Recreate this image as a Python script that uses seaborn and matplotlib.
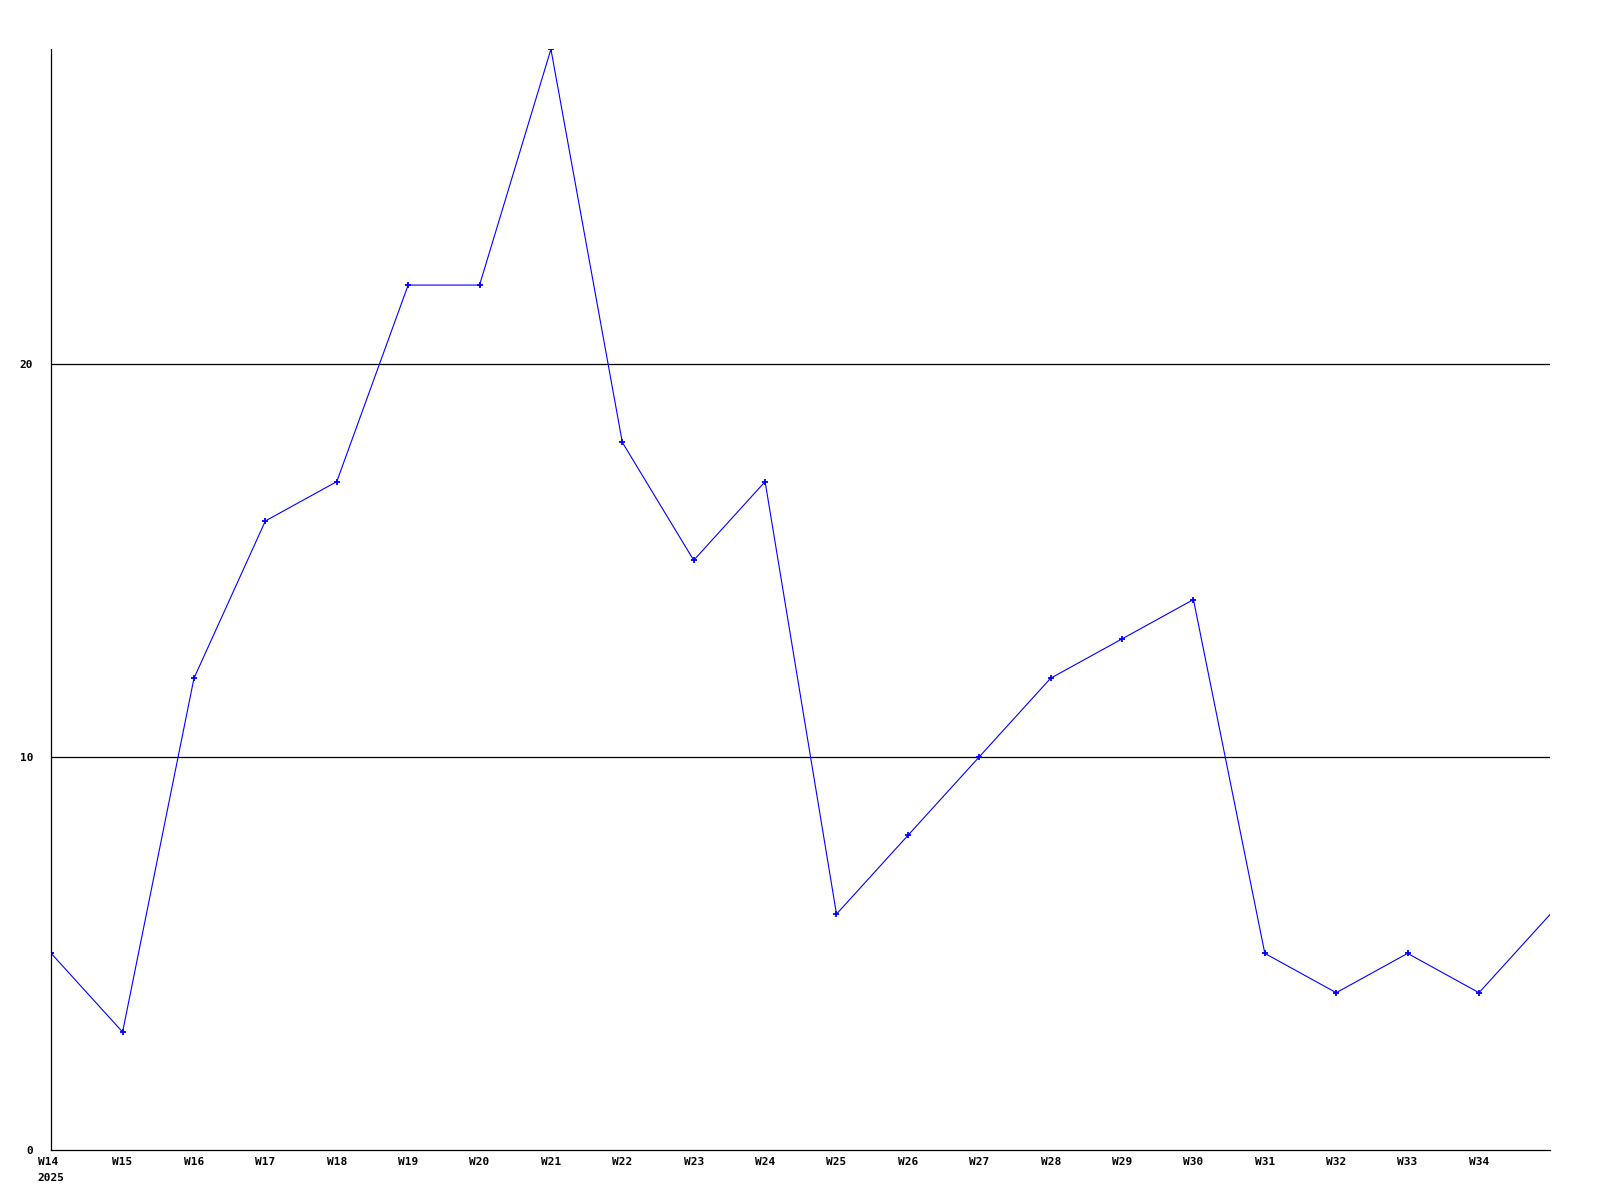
import matplotlib
matplotlib.use("Agg")
import matplotlib.pyplot as plt
import seaborn as sns
import pandas as pd

# Weekly counts, 2025 (W35 sits on the right edge of the axis)
weeks = list(range(14, 36))
values = [5, 3, 12, 16, 17, 22, 22, 28, 18, 15, 17, 6, 8, 10, 12, 13, 14, 5, 4, 5, 4, 6]
tick_weeks = list(range(14, 35))
tick_labels = ["W14\n2025"] + [f"W{w}" for w in range(15, 35)]
y_ticks = [0, 10, 20]

df = pd.DataFrame({"week": weeks, "count": values})

sns.set_theme(style="white")
plt.rcParams["font.family"] = ["DejaVu Sans Mono", "DejaVu Sans"]

fig = plt.figure(figsize=(16, 12), dpi=100)
ax = fig.add_axes([0.032, 0.0417, 0.937, 0.9173])

sns.lineplot(
    data=df, x="week", y="count", ax=ax,
    color="#0000ff", linewidth=0.8,
    marker="+", markersize=4.5, markeredgewidth=1.3,
    markeredgecolor="#0000ff",
    markevery=list(range(len(weeks) - 1)),
)

ax.set_xlim(14, 35)
ax.set_ylim(0, 28)
ax.set_xticks(tick_weeks)
ax.set_xticklabels(tick_labels, fontsize=8, fontweight="bold",
                   multialignment="left", linespacing=1.7)
ax.set_yticks(y_ticks)
ax.set_yticklabels([str(v) for v in y_ticks], fontsize=8, fontweight="bold")
ax.tick_params(axis="x", length=0, pad=5, labelcolor="black")
ax.tick_params(axis="y", length=0, pad=13, labelcolor="black")

for v in y_ticks[1:]:
    ax.axhline(v, color="black", linewidth=0.9, zorder=0)

for side in ["top", "right"]:
    ax.spines[side].set_visible(False)
for side in ["left", "bottom"]:
    ax.spines[side].set_color("black")
    ax.spines[side].set_linewidth(0.9)

ax.set_xlabel("")
ax.set_ylabel("")
ax.grid(False)

fig.savefig("out.png", dpi=100)
